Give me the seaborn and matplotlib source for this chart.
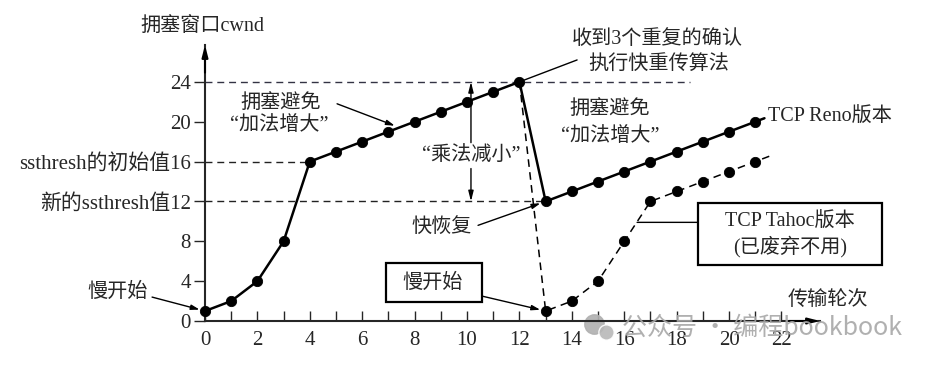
import matplotlib
matplotlib.use('Agg')
import matplotlib.pyplot as plt
import matplotlib.patches as mpatches
import seaborn as sns
import pandas as pd

# TCP Reno: slow start, congestion avoidance, fast recovery
reno_round = [0, 1, 2, 3, 4, 5, 6, 7, 8, 9, 10, 11, 12, 13, 14, 15, 16, 17, 18, 19, 20, 21]
reno_cwnd = [1, 2, 4, 8, 16, 17, 18, 19, 20, 21, 22, 23, 24, 12, 13, 14, 15, 16, 17, 18, 19, 20]
reno_tail = (21.35, 20.35)

# TCP Tahoe after the 3 dup acks at round 12
tahoe_round = [12, 13, 14, 15, 16, 17, 18, 19, 20, 21]
tahoe_cwnd = [24, 1, 2, 4, 8, 12, 13, 14, 15, 16]
tahoe_tail = (21.6, 16.6)

xticks = [0, 2, 4, 6, 8, 10, 12, 14, 16, 18, 20, 22]
yticks = [0, 4, 8, 12, 16, 20, 24]
ylabels = ['0', '4', '8', '新的ssthresh值12', 'ssthresh的初始值16', '20', '24']

sns.set_style('ticks')
plt.rcParams['font.family'] = ['Liberation Serif', 'Noto Sans CJK SC']
plt.rcParams['axes.unicode_minus'] = False
FS = 14.5

fig = plt.figure(figsize=(9.32, 3.66), dpi=100)
ax = fig.add_axes([205/932, 45/366, (820-205)/932, (321-45)/366])
ax.set_xlim(0, 23.47)
ax.set_ylim(0, 27.7)

df_reno = pd.DataFrame({'x': reno_round + [reno_tail[0]], 'y': reno_cwnd + [reno_tail[1]]})
df_tahoe = pd.DataFrame({'x': tahoe_round + [tahoe_tail[0]], 'y': tahoe_cwnd + [tahoe_tail[1]]})

# reference dashed lines
ax.plot([0, 18.5], [24, 24], ls=(0, (5, 3.5)), color='#333344', lw=1.0)
ax.plot([0, 4], [16, 16], ls=(0, (5, 3.5)), color='#222222', lw=1.0)
ax.plot([0, 13], [12, 12], ls=(0, (5, 3.5)), color='#222222', lw=1.0)

sns.lineplot(data=df_tahoe, x='x', y='y', ax=ax, color='k', lw=1.1, sort=False,
             estimator=None, linestyle=(0, (5, 3.5)), clip_on=False)
sns.lineplot(data=df_reno, x='x', y='y', ax=ax, color='k', lw=1.8, sort=False,
             estimator=None, clip_on=False)
sns.scatterplot(x=reno_round, y=reno_cwnd, ax=ax, color='k', s=55, edgecolor='k',
                zorder=5, clip_on=False)
sns.scatterplot(x=tahoe_round[1:], y=tahoe_cwnd[1:], ax=ax, color='k', s=55,
                edgecolor='k', zorder=5, clip_on=False)

# axes look
for s in ['top', 'right']:
    ax.spines[s].set_visible(False)
for s in ['left', 'bottom']:
    ax.spines[s].set_linewidth(1.5)
ax.set_xticks(xticks)
ax.set_xticks(range(0, 23), minor=True)
ax.set_yticks(yticks)
ax.set_yticklabels(ylabels)
ax.tick_params(axis='x', which='both', direction='in', length=7, width=1, pad=7, labelsize=15)
ax.tick_params(axis='y', direction='out', length=8, width=1, pad=2, labelsize=15)
ax.set_xlabel('')
ax.set_ylabel('')

arr = dict(arrowstyle='-|>,head_length=0.7,head_width=0.18', color='k', lw=1.5,
           shrinkA=0, shrinkB=0)
ax.annotate('', xy=(1.0, 0), xytext=(0.95, 0), xycoords='axes fraction', arrowprops=arr,
            annotation_clip=False)
ax.annotate('', xy=(0, 1.0), xytext=(0, 0.9), xycoords='axes fraction', arrowprops=arr,
            annotation_clip=False)

kw = dict(fontsize=FS, ha='center', va='center', annotation_clip=False)
small = dict(arrowstyle='-|>,head_length=0.5,head_width=0.15', color='k', lw=1.0,
             shrinkA=0, shrinkB=4)
line = dict(arrowstyle='-', color='k', lw=1.0, shrinkA=0, shrinkB=0)

ax.annotate('拥塞窗口cwnd', xy=(-0.08, 29.5), **kw)
ax.annotate('传输轮次', xy=(23.78, 2.1), **kw)

ax.annotate('收到3个重复的确认', xy=(17.25, 28.3), **kw)
ax.annotate('执行快重传算法', xy=(17.3, 25.7), **kw)
ax.annotate('', xy=(12, 24), xytext=(14.2, 26.2), arrowprops=line, annotation_clip=False)

ax.annotate('拥塞避免', xy=(2.9, 21.8), **kw)
ax.annotate('“加法增大”', xy=(2.85, 19.6), **kw)
ax.annotate('', xy=(7.44, 19.4), xytext=(5.04, 21.8), arrowprops=small)

ax.annotate('拥塞避免', xy=(15.46, 21.2), **kw)
ax.annotate('“加法增大”', xy=(15.46, 18.5), **kw)

ax.annotate('“乘法减小”', xy=(10.15, 16.6), **kw)
dbl = dict(arrowstyle='-|>,head_length=0.6,head_width=0.15', color='k', lw=1.0,
           shrinkA=0, shrinkB=0)
ax.annotate('', xy=(10.15, 24), xytext=(10.15, 17.9), arrowprops=dbl)
ax.annotate('', xy=(10.15, 12), xytext=(10.15, 15.3), arrowprops=dbl)

ax.annotate('TCP Reno版本', xy=(21.5, 20.4), fontsize=FS, ha='left', va='center',
            annotation_clip=False)

ax.annotate('快恢复', xy=(9.05, 9.3), **kw)
ax.annotate('', xy=(13, 12), xytext=(10.42, 9.6), arrowprops=small)

ax.add_patch(mpatches.Rectangle((6.91, 1.9), 3.66, 3.9, fill=False, lw=1.6,
                                edgecolor='k', clip_on=False))
ax.annotate('慢开始', xy=(8.7, 3.8), **kw)
ax.annotate('', xy=(13, 1), xytext=(10.57, 2.5), arrowprops=small)

ax.annotate('慢开始', xy=(-3.32, 2.9), **kw)
ax.annotate('', xy=(0, 1), xytext=(-2.02, 2.4), arrowprops=small, annotation_clip=False)

ax.add_patch(mpatches.Rectangle((18.82, 5.6), 7.02, 6.25, fill=False, lw=1.6,
                                edgecolor='k', clip_on=False))
ax.annotate('TCP Tahoc版本', xy=(22.33, 9.94), **kw)
ax.annotate('(已废弃不用)', xy=(22.33, 7.43), **kw)
ax.annotate('', xy=(16.49, 9.9), xytext=(18.82, 9.9), arrowprops=line, annotation_clip=False)

# watermark
fig.text(622/932, 1-328/366, '公众号 · 编程bookbook', fontsize=18, color='#a8a8a8',
         ha='left', va='center', family=['Noto Sans CJK SC', 'DejaVu Sans'], alpha=0.9)
ax.plot([594/932], [1-324/366], 'o', ms=14, color='#b0b0b0', transform=fig.transFigure,
        clip_on=False, alpha=0.9)
ax.plot([606/932], [1-332/366], 'o', ms=11, color='#b8b8b8', transform=fig.transFigure,
        clip_on=False, alpha=0.9, mec='white', mew=1)

fig.savefig('out.png', dpi=100)
